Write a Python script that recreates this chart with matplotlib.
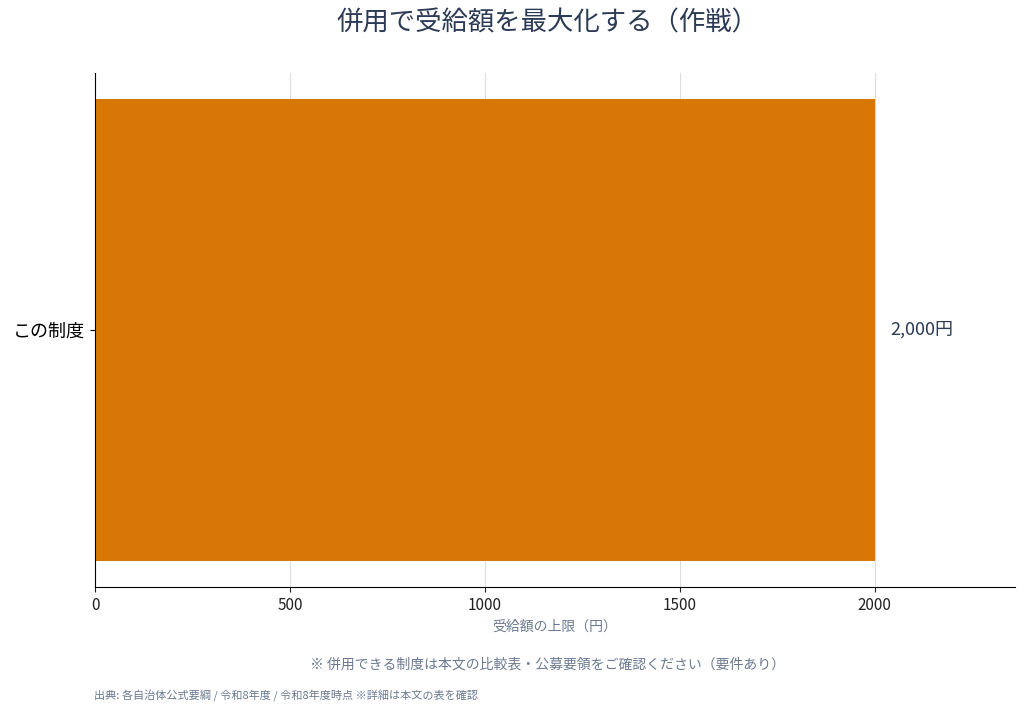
import matplotlib
matplotlib.use("Agg")
import matplotlib.pyplot as plt

plt.rcParams['font.family'] = ['Noto Sans CJK JP', 'DejaVu Sans']

categories = ['この制度']
values = [2000]
value_labels = ['2,000円']

title = '併用で受給額を最大化する（作戦）'
xlabel = '受給額の上限（円）'
note = '※ 併用できる制度は本文の比較表・公募要領をご確認ください（要件あり）'
source = '出典: 各自治体公式要綱 / 令和8年度 / 令和8年度時点 ※詳細は本文の表を確認'

fig = plt.figure(figsize=(10.24, 7.12), dpi=100)
ax = fig.add_axes([95 / 1024, 1 - 587 / 712, 920 / 1024, 514 / 712])

ax.barh(categories, values, height=0.9, color='#D97706', zorder=2)
ax.set_ylim(-0.5, 0.5)
ax.set_xlim(0, max(values) * 1.18)
ax.set_xticks([0, 500, 1000, 1500, 2000])
ax.grid(axis='x', color='#dddddd', linewidth=0.8, zorder=0)
ax.spines['top'].set_visible(False)
ax.spines['right'].set_visible(False)
ax.tick_params(axis='x', labelsize=11, colors='#222222')
ax.tick_params(axis='y', labelsize=13)
ax.set_xlabel(xlabel, fontsize=10, color='#6b7a90', labelpad=4)

for i, (v, lab) in enumerate(zip(values, value_labels)):
    ax.text(v + 40, i, lab, va='center', ha='left', fontsize=13, color='#2b3a55')

fig.text(0.535, 0.968, title, ha='center', va='center', fontsize=19, color='#2b3a55')
fig.text(0.535, 0.067, note, ha='center', va='center', fontsize=10, color='#6b7a90')
fig.text(0.092, 0.022, source, ha='left', va='center', fontsize=8, color='#6b7a90')

fig.savefig('out.png', dpi=100)
